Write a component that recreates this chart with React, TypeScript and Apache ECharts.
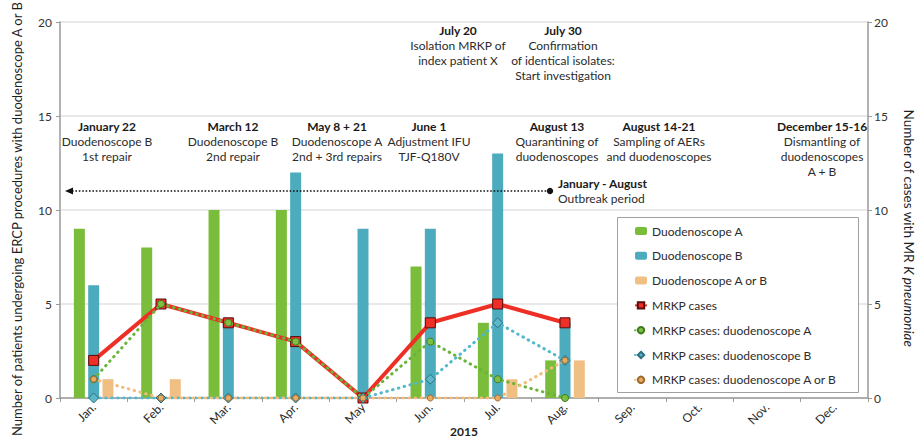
import React, { useEffect, useRef } from "react";
import * as echarts from "echarts";

const months = ["Jan.", "Feb.", "Mar.", "Apr.", "May", "Jun.", "Jul.", "Aug.", "Sep.", "Oct.", "Nov.", "Dec."];
const scopeA = [9, 8, 10, 10, 0, 7, 4, 2, null, null, null, null];
const scopeB = [6, 0, 4, 12, 9, 9, 13, 4, null, null, null, null];
const scopeAorB = [1, 1, 0, 0, 0, 0, 1, 2, null, null, null, null];
const mrkpCases = [2, 5, 4, 3, 0, 4, 5, 4, null, null, null, null];
const mrkpA = [1, 5, 4, 3, 0, 3, 1, 0, null, null, null, null];
const mrkpB = [0, 0, 0, 0, 0, 1, 4, 2, null, null, null, null];
const mrkpAorB = [1, 0, 0, 0, 0, 0, 0, 2, null, null, null, null];

const seriesNames = [
  "Duodenoscope A",
  "Duodenoscope B",
  "Duodenoscope A or B",
  "MRKP cases",
  "MRKP cases: duodenoscope A",
  "MRKP cases: duodenoscope B",
  "MRKP cases: duodenoscope A or B",
];

const leftAxisName = "Number of patients undergoing ERCP procedures with duodenoscope A or B";
const yearLabel = "2015";

const eventTitles = [
  "July 20", "July 30", "January 22", "March 12", "May 8 + 21", "June 1",
  "August 13", "August 14-21", "December 15-16",
];
const eventLines = [
  ["Isolation MRKP of", "index patient X"],
  ["Confirmation", "of identical isolates:", "Start investigation"],
  ["Duodenoscope B", "1st repair"],
  ["Duodenoscope B", "2nd repair"],
  ["Duodenoscope A", "2nd + 3rd repairs"],
  ["Adjustment IFU", "TJF-Q180V"],
  ["Quarantining of", "duodenoscopes"],
  ["Sampling of AERs", "and duodenoscopes"],
  ["Dismantling of", "duodenoscopes", "A + B"],
];
const outbreakTitle = "January - August";
const outbreakText = "Outbreak period";

// layout (pixel) positions of annotation blocks: [centerX, firstLineY]
const eventPos: [number, number][] = [
  [458, 30], [563, 30], [107, 126], [233, 126], [337, 126], [429, 126],
  [557, 126], [659, 126], [822, 126],
];
const OUTBREAK_X = 550;

const FONT = "Lato, 'Noto Sans', sans-serif";
const C_GREEN = "#79bd3b";
const C_TEAL = "#4dabbe";
const C_ORANGE = "#f0bf84";
const C_RED = "#ee2f25";

export default function App() {
  const ref = useRef<HTMLDivElement>(null);
  useEffect(() => {
    if (!ref.current) return;
    const chart = echarts.init(ref.current, undefined, { renderer: "svg" });

    const graphics: any[] = [];
    graphics.push({
      type: "rect",
      z: 3,
      shape: { x: 617.5, y: 217.5, width: 241, height: 175 },
      style: { fill: "#fff", stroke: "#a0a0a0", lineWidth: 1 },
    });
    graphics.push({
      type: "line",
      z: 5,
      shape: { x1: 72, y1: 191, x2: OUTBREAK_X - 1, y2: 191 },
      style: { stroke: "#111", lineWidth: 1.6, lineDash: [1.6, 1.8] },
    });
    graphics.push({
      type: "polygon",
      z: 5,
      shape: { points: [[65, 191], [73, 187.5], [73, 194.5]] },
      style: { fill: "#111" },
    });
    graphics.push({
      type: "circle",
      z: 5,
      shape: { cx: OUTBREAK_X, cy: 191, r: 3.2 },
      style: { fill: "#111" },
    });
    const addText = (x: number, y: number, text: string, bold: boolean, align: string) => {
      graphics.push({
        type: "text",
        z: 5,
        x,
        y,
        style: {
          text,
          fill: bold ? "#1a1a1a" : "#2b2b2b",
          font: `${bold ? "bold " : ""}12px ${FONT}`,
          textAlign: align,
          align,
          textVerticalAlign: "middle",
          verticalAlign: "middle",
        },
      });
    };
    eventTitles.forEach((t, i) => {
      const [x, y] = eventPos[i];
      addText(x, y, t, true, "center");
      eventLines[i].forEach((l, j) => addText(x, y + 15 * (j + 1), l, false, "center"));
    });
    addText(OUTBREAK_X + 8, 183, outbreakTitle, true, "left");
    addText(OUTBREAK_X + 8, 198, outbreakText, false, "left");

    const dotted = (color: string) => ({ color, width: 3, type: [0.5, 5.5], cap: "round" });

    chart.setOption({
      animation: false,
      textStyle: { fontFamily: FONT },
      grid: { left: 60, right: 49, top: 22, bottom: 41, outerBoundsMode: "none", containLabel: false },
      legend: {
        orient: "vertical",
        left: 629,
        top: 220,
        itemWidth: 12,
        itemHeight: 8,
        itemGap: 12.8,
        z: 6,
        textStyle: { fontSize: 12, color: "#2b2b2b", fontFamily: FONT },
        data: seriesNames,
      },
      xAxis: {
        type: "category",
        data: months,
        axisLine: { lineStyle: { color: "#9a9a9a", width: 1.5 } },
        axisTick: { show: true, length: 4, lineStyle: { color: "#9a9a9a" } },
        axisLabel: { rotate: 45, fontSize: 12, color: "#2a2a2a", margin: 7 },
        name: yearLabel,
        nameLocation: "middle",
        nameGap: 27,
        nameMoveOverlap: false,
        nameTextStyle: { fontWeight: "bold", fontSize: 12, color: "#222" },
      },
      yAxis: [
        {
          type: "value",
          min: 0,
          max: 20,
          interval: 5,
          axisLine: { show: true, lineStyle: { color: "#9a9a9a", width: 1.5 } },
          axisTick: { show: true, length: 4, lineStyle: { color: "#9a9a9a" } },
          axisLabel: { fontSize: 12, color: "#333", margin: 8 },
          splitLine: { lineStyle: { color: "#e2e2e2", width: 1.5 } },
          name: leftAxisName,
          nameLocation: "middle",
          nameGap: 37,
          nameMoveOverlap: false,
          nameTextStyle: { fontSize: 13, color: "#1f1f1f", padding: [0, 18, 0, 0] },
        },
        {
          type: "value",
          position: "right",
          min: 0,
          max: 20,
          interval: 5,
          axisLine: { show: true, lineStyle: { color: "#9a9a9a", width: 1.5 } },
          axisTick: { show: true, length: 4, lineStyle: { color: "#9a9a9a" } },
          axisLabel: { fontSize: 12, color: "#333", margin: 6 },
          splitLine: { show: false },
          name: "{n|Number of cases with MR }{i|K pneumoniae}",
          nameLocation: "middle",
          nameGap: 34,
          nameRotate: -90,
          nameMoveOverlap: false,
          nameTextStyle: {
            fontSize: 13.5,
            color: "#1f1f1f",
            padding: [0, 0, 0, 36],
            rich: {
              n: { fontSize: 13.5, color: "#1f1f1f", fontFamily: FONT },
              i: { fontSize: 13.5, color: "#1f1f1f", fontStyle: "italic", fontFamily: FONT },
            },
          },
        },
      ],
      graphic: graphics,
      series: [
        { name: seriesNames[0], type: "bar", data: scopeA, barWidth: 11, barGap: "30%", itemStyle: { color: C_GREEN } },
        { name: seriesNames[1], type: "bar", data: scopeB, barWidth: 11, barGap: "30%", itemStyle: { color: C_TEAL } },
        { name: seriesNames[2], type: "bar", data: scopeAorB, barWidth: 11, barGap: "30%", itemStyle: { color: C_ORANGE } },
        {
          name: seriesNames[3], type: "line", yAxisIndex: 1, data: mrkpCases, z: 3,
          symbol: "rect", symbolSize: 10,
          lineStyle: { color: C_RED, width: 4 },
          itemStyle: { color: C_RED, borderColor: "#5a0d0d", borderWidth: 1 },
        },
        {
          name: seriesNames[4], type: "line", yAxisIndex: 1, data: mrkpA, z: 4,
          symbol: "circle", symbolSize: 7,
          lineStyle: dotted("#6ab43a"),
          itemStyle: { color: "#7cc043", borderColor: "#3f7a1e", borderWidth: 1 },
        },
        {
          name: seriesNames[5], type: "line", yAxisIndex: 1, data: mrkpB, z: 4,
          symbol: "diamond", symbolSize: 10,
          lineStyle: dotted("#52b8cc"),
          itemStyle: { color: "#5cb7c9", borderColor: "#2e6f80", borderWidth: 1 },
        },
        {
          name: seriesNames[6], type: "line", yAxisIndex: 1, data: mrkpAorB, z: 4,
          symbol: "circle", symbolSize: 6,
          lineStyle: dotted("#f2bb7c"),
          itemStyle: { color: "#e9ab63", borderColor: "#9c6a2b", borderWidth: 1 },
        },
      ],
    });
    return () => chart.dispose();
  }, []);
  return <div ref={ref} style={{ position: "fixed", left: 0, top: 0, width: 917, height: 439, background: "#fff" }} />;
}
